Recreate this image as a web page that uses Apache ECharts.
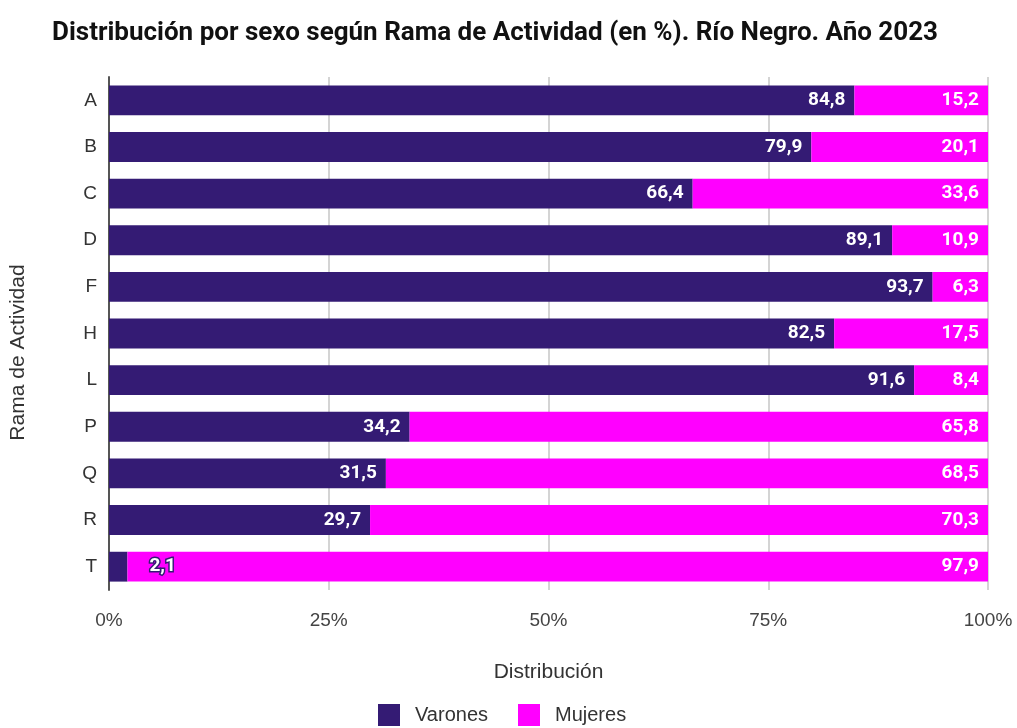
<!DOCTYPE html>
<html>
<head>
<meta charset="utf-8">
<script src="https://cdn.jsdelivr.net/npm/echarts@6/dist/echarts.min.js"></script>
<style>
  html, body { margin: 0; padding: 0; background: #fff; }
  #chart { width: 1017px; height: 728px; }
</style>
</head>
<body>
<div id="chart"></div>
<script>
const categories = ['A', 'B', 'C', 'D', 'F', 'H', 'L', 'P', 'Q', 'R', 'T']
const varones = [84.8, 79.9, 66.4, 89.1, 93.7, 82.5, 91.6, 34.2, 31.5, 29.7, 2.1]
const mujeres = [15.2, 20.1, 33.6, 10.9, 6.3, 17.5, 8.4, 65.8, 68.5, 70.3, 97.9]
const xTicks = [0, 25, 50, 75, 100]

const VARON = '#341b74'
const MUJER = '#ff00ff'
const SANS = '"Liberation Sans", Arial, sans-serif'

const fmt = v => v.toFixed(1).replace('.', ',')

// yAxis inverse so A sits on top
const chart = echarts.init(document.getElementById('chart'))

const labelBase = {
  show: true,
  position: 'insideRight',
  color: '#fff',
  fontFamily: 'Roboto',
  fontWeight: 'bold',
  fontSize: 19,
  distance: 9
}

chart.setOption({
  animation: false,
  textStyle: { fontFamily: SANS },
  title: {
    text: 'Distribución por sexo según Rama de Actividad (en %). Río Negro. Año 2023',
    left: 47,
    top: 15,
    textStyle: { fontFamily: 'Roboto', fontWeight: 'bold', fontSize: 26, color: '#111' }
  },
  legend: {
    bottom: -3,
    left: 373,
    itemWidth: 22,
    itemHeight: 22,
    itemGap: 30,
    icon: 'rect',
    textStyle: { fontFamily: SANS, fontSize: 20, color: '#333', padding: [0, 0, 0, 10] },
    data: ['Varones', 'Mujeres']
  },
  grid: { left: 109, right: 29, top: 77, bottom: 138 },
  xAxis: {
    type: 'value',
    min: 0,
    max: 100,
    interval: 25,
    name: 'Distribución',
    nameLocation: 'middle',
    nameGap: 72,
    nameTextStyle: { fontFamily: SANS, fontSize: 21, color: '#333', padding: [0, 0, 0, 0] },
    axisLine: { show: false },
    axisTick: { show: false },
    axisLabel: {
      margin: 21,
      fontSize: 19,
      fontFamily: SANS,
      color: '#444',
      formatter: v => xTicks.includes(v) ? v + '%' : ''
    },
    splitLine: { show: true, lineStyle: { color: '#d4d4d4', width: 2 } }
  },
  yAxis: {
    type: 'category',
    inverse: true,
    data: categories,
    name: 'Rama de Actividad',
    nameLocation: 'middle',
    nameGap: 80,
    nameRotate: 90,
    nameTextStyle: { fontFamily: SANS, fontSize: 21, color: '#333', padding: [0, 38, 0, 0] },
    axisLine: { show: true, lineStyle: { color: '#555', width: 2 } },
    axisTick: { show: false },
    axisLabel: { margin: 12, fontSize: 19, fontFamily: SANS, color: '#333' }
  },
  series: [
    {
      name: 'Varones',
      type: 'bar',
      stack: 'total',
      barWidth: '64%',
      itemStyle: { color: VARON },
      label: { ...labelBase, formatter: p => fmt(p.value) },
      data: varones.map(v => v < 5 ? {
        value: v,
        label: {
          position: 'right',
          distance: 22,
          textBorderColor: VARON,
          textBorderWidth: 3
        }
      } : v)
    },
    {
      name: 'Mujeres',
      type: 'bar',
      stack: 'total',
      barWidth: '64%',
      itemStyle: { color: MUJER },
      label: { ...labelBase, formatter: p => fmt(p.value) },
      data: mujeres
    }
  ]
})
</script>
</body>
</html>
